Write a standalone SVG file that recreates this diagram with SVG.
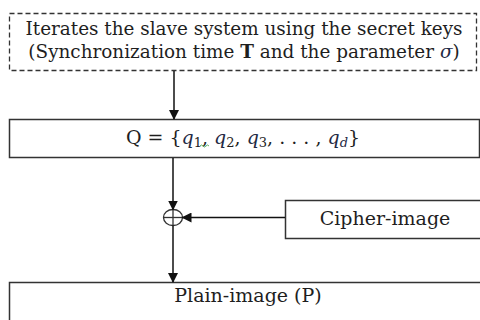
<svg xmlns="http://www.w3.org/2000/svg" width="480" height="320" viewBox="0 0 480 320">
<style>
.box{fill:#fff;stroke:#333;stroke-width:1.5}
.dash{fill:#fff;stroke:#333;stroke-width:1.3;stroke-dasharray:5,3}
.t{font-family:"DejaVu Serif","Liberation Serif",serif;font-size:19px;fill:#1e1e1e;text-anchor:middle}
.k{font-size:18.4px}
.m{font-style:italic;fill:#1f2a44}
.c{stroke:#111;stroke-width:1.5;fill:none}
</style>
<defs>
<marker id="ah" markerWidth="10" markerHeight="10" refX="9" refY="5" orient="auto" markerUnits="userSpaceOnUse">
<path d="M0,0 L10,5 L0,10 z" fill="#111"/>
</marker>
</defs>
<rect width="480" height="320" fill="#fff"/>
<g id="keys">
<rect class="dash" x="9.5" y="13.5" width="467" height="57"/>
<text class="t k" x="244" y="35">Iterates the slave system using the secret keys</text>
<text class="t k" x="244" y="58">(Synchronization time <tspan font-weight="bold">T</tspan> and the parameter <tspan class="m">σ</tspan>)</text>
</g>
<g id="q">
<rect class="box" x="9.5" y="119.5" width="470" height="38"/>
<text class="t" x="243" y="144">Q = {<tspan class="m">q</tspan><tspan font-size="13" dy="3">1</tspan><tspan dy="-3">, </tspan><tspan class="m">q</tspan><tspan font-size="13" dy="3">2</tspan><tspan dy="-3">, </tspan><tspan class="m">q</tspan><tspan font-size="13" dy="3">3</tspan><tspan dy="-3">, . . . , </tspan><tspan class="m">q</tspan><tspan class="m" font-size="13" dy="3">d</tspan><tspan dy="-3">}</tspan></text>
<path d="M200,146 q1.5,-2 3,0 t3,0 t3,0" stroke="#3a9a3a" stroke-width="0.8" fill="none"/>
</g>
<g id="xor">
<ellipse cx="173" cy="217.5" rx="9.5" ry="8" fill="#fff" stroke="#333" stroke-width="1.3"/>
<line x1="163.5" y1="217.5" x2="182.5" y2="217.5" stroke="#333" stroke-width="1.3"/>
<line x1="173" y1="209.5" x2="173" y2="225.5" stroke="#333" stroke-width="1.3"/>
</g>
<g id="cipher">
<rect class="box" x="285.5" y="200.5" width="196" height="38"/>
<text class="t" x="385" y="225">Cipher-image</text>
</g>
<g id="plain">
<rect class="box" x="9.5" y="282.5" width="472" height="40"/>
<text class="t" x="248" y="302">Plain-image (P)</text>
</g>
<g id="connectors">
<line class="c" x1="174" y1="71" x2="174" y2="119" marker-end="url(#ah)"/>
<line class="c" x1="173" y1="158" x2="173" y2="209.5" marker-end="url(#ah)"/>
<line class="c" x1="285" y1="217.5" x2="182.5" y2="217.5" marker-end="url(#ah)"/>
<line class="c" x1="173" y1="225.5" x2="173" y2="282" marker-end="url(#ah)"/>
</g>
</svg>
